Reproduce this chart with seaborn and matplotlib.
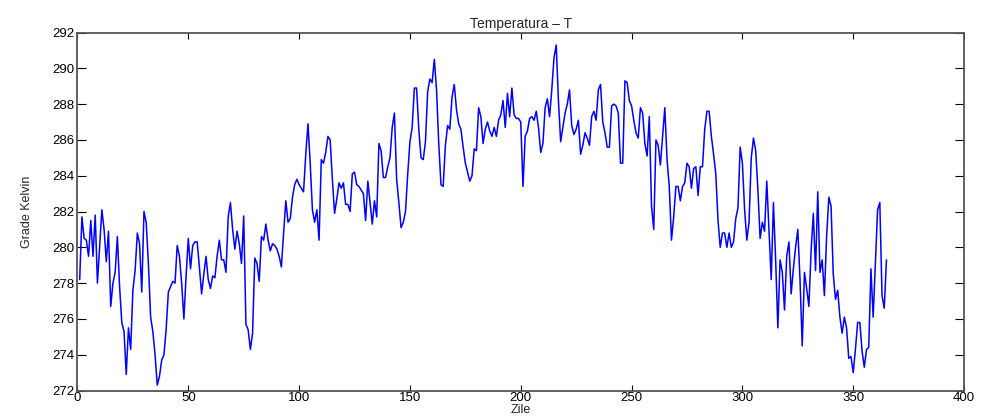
import numpy as np
import pandas as pd
import matplotlib
matplotlib.use("Agg")
import matplotlib.pyplot as plt
import seaborn as sns

title = "Temperatura \u2013 T"
xlabel = "Zile"
ylabel = "Grade Kelvin"
x_ticks = [0, 50, 100, 150, 200, 250, 300, 350, 400]
y_ticks = [272, 274, 276, 278, 280, 282, 284, 286, 288, 290, 292]

temp_k = [
    278.2, 281.7, 280.5, 280.4, 279.5, 281.5, 279.5, 281.8, 278.0, 280.0,
    282.1, 281.0, 279.2, 280.9, 276.7, 278.0, 278.6, 280.6, 277.8, 275.8,
    275.3, 272.9, 275.5, 274.3, 277.6, 278.7, 280.8, 280.2, 277.5, 282.0,
    281.4, 279.1, 276.1, 275.3, 274.0, 272.3, 272.8, 273.7, 274.0, 275.4,
    277.5, 277.8, 278.1, 278.0, 280.1, 279.5, 278.0, 276.0, 278.4, 280.5,
    278.8, 280.1, 280.3, 280.3, 278.9, 277.4, 278.5, 279.5, 278.2, 277.7,
    278.4, 278.3, 279.5, 280.4, 279.3, 279.3, 278.6, 281.7, 282.5, 281.0,
    279.9, 280.9, 280.2, 279.1, 281.75, 275.7, 275.4, 274.3, 275.2, 279.4,
    279.1, 278.1, 280.6, 280.4, 281.3, 280.4, 279.8, 280.2, 280.1, 279.9,
    279.5, 278.9, 280.8, 282.6, 281.4, 281.6, 282.8, 283.5, 283.8, 283.5,
    283.3, 283.1, 285.2, 286.9, 284.7, 282.1, 281.4, 282.1, 280.4, 284.9,
    284.7, 285.3, 286.2, 286.0, 283.8, 281.9, 282.7, 283.6, 283.3, 283.6,
    282.4, 282.4, 282.0, 284.1, 284.2, 283.5, 283.4, 283.2, 283.0, 281.5,
    283.7, 282.5, 281.3, 282.6, 281.7, 285.8, 285.4, 283.9, 283.9, 284.5,
    285.0, 286.7, 287.5, 283.8, 282.5, 281.1, 281.4, 282.0, 284.1, 285.9,
    286.7, 288.9, 288.9, 286.6, 285.0, 284.9, 285.9, 288.7, 289.4, 289.2,
    290.5, 288.8, 285.8, 283.5, 283.4, 285.7, 286.8, 286.6, 288.4, 289.1,
    287.7, 286.9, 286.6, 285.6, 284.7, 284.2, 283.7, 284.0, 285.5, 285.4,
    287.8, 287.3, 285.8, 286.6, 287.0, 286.5, 286.2, 286.7, 286.2, 287.1,
    287.4, 288.2, 286.7, 288.6, 287.3, 288.9, 287.4, 287.2, 287.2, 287.0,
    283.4, 286.2, 286.5, 287.2, 287.3, 287.1, 287.6, 286.7, 285.3, 285.8,
    287.8, 288.3, 287.3, 288.8, 290.6, 291.3, 288.2, 285.9, 286.7, 287.5,
    288.0, 288.8, 286.8, 286.3, 286.6, 287.1, 285.2, 285.7, 286.4, 286.1,
    285.7, 287.3, 287.6, 287.1, 288.8, 289.1, 287.0, 286.4, 285.6, 285.6,
    287.9, 288.0, 287.9, 287.5, 284.7, 284.7, 289.3, 289.2, 288.2, 287.9,
    287.1, 286.4, 286.1, 287.8, 287.5, 285.8, 285.1, 287.3, 282.3, 281.0,
    286.0, 285.7, 284.6, 286.2, 287.8, 284.9, 283.4, 280.4, 281.7, 283.4,
    283.4, 282.6, 283.4, 283.6, 284.7, 284.5, 283.3, 284.4, 284.5, 282.9,
    284.5, 284.5, 286.6, 287.6, 287.6, 286.2, 285.2, 284.1, 281.5, 280.0,
    280.8, 280.8, 280.0, 280.8, 280.0, 280.3, 281.6, 282.2, 285.6, 284.7,
    282.1, 280.4, 281.4, 285.0, 286.1, 285.4, 283.2, 280.5, 281.4, 280.9,
    283.7, 281.0, 278.2, 282.5, 279.3, 275.5, 279.3, 278.6, 276.5, 279.5,
    280.3, 277.4, 278.8, 280.0, 281.0, 278.2, 274.5, 278.6, 277.7, 276.7,
    279.8, 281.9, 278.7, 283.1, 278.6, 279.3, 277.3, 280.6, 282.8, 282.3,
    278.5, 277.1, 277.6, 276.1, 275.2, 276.1, 275.5, 273.8, 273.9, 273.0,
    274.3, 275.8, 275.8, 274.2, 273.3, 274.3, 274.4, 278.8, 276.1, 279.1,
    282.1, 282.5, 277.3, 276.6, 279.3,
]
days = list(range(1, len(temp_k) + 1))

df = pd.DataFrame({"zi": days, "T": temp_k})

sns.set_style("ticks")
plt.rcParams["font.family"] = ["Liberation Sans", "DejaVu Sans"]

fig = plt.figure(figsize=(9.82, 4.17), dpi=100)
ax = fig.add_axes([0.0789, 0.0635, 0.9028, 0.8585])

sns.lineplot(data=df, x="zi", y="T", ax=ax, color="#0000ff", linewidth=1.1)

ax.set_xlim(0, 400)
ax.set_ylim(272, 292)
ax.set_xticks(x_ticks)
ax.set_yticks(y_ticks)
ax.set_xticklabels([str(t) for t in x_ticks])
ax.set_yticklabels([str(t) for t in y_ticks])

for s in ax.spines.values():
    s.set_visible(True)
    s.set_color("#555555")
    s.set_linewidth(1.3)

ax.tick_params(axis="x", direction="in", length=4, width=0.8, top=True, bottom=True,
               labelsize=9.5, pad=1, colors="black")
ax.tick_params(axis="y", direction="in", length=6.5, width=0.8, left=True, right=True,
               labelsize=9.5, pad=2, colors="black")

ax.set_title(title, fontsize=10, pad=3)
ax.set_xlabel(xlabel, fontsize=9, labelpad=0)
ax.set_ylabel(ylabel, fontsize=9, labelpad=14,
              family=["Liberation Sans Narrow", "Liberation Sans", "DejaVu Sans"])
ax.grid(False)

fig.savefig("out.png", dpi=100)
